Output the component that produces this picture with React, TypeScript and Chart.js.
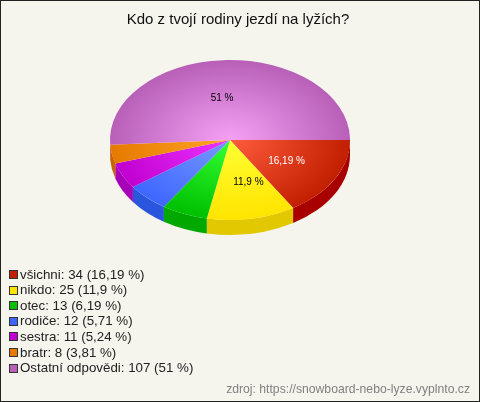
import React, { useEffect, useRef } from "react";
import { Chart, registerables } from "chart.js";

Chart.register(...registerables);

const title = "Kdo z tvojí rodiny jezdí na lyžích?";
const source = "zdroj: https://snowboard-nebo-lyze.vyplnto.cz";
const categories = ["všichni", "nikdo", "otec", "rodiče", "sestra", "bratr", "Ostatní odpovědi"];
const counts = [34, 25, 13, 12, 11, 8, 107];
const percents = ["16,19", "11,9", "6,19", "5,71", "5,24", "3,81", "51"];
const innerColors = ["#ff5c3e", "#ffff33", "#33ff33", "#7799ff", "#ee33ff", "#ffa526", "#f5a0f5"];
const outerColors = ["#c21e00", "#ffe400", "#00c000", "#3e66ff", "#c000d0", "#e67a00", "#b860b8"];
const sideColors = ["#a80000", "#e2c800", "#00a800", "#2a55dd", "#a800b8", "#c86400", "#a050a0"];
const swatchColors = ["#c21e00", "#ffe400", "#00c000", "#3e66ff", "#c000d0", "#e67a00", "#b860b8"];
const sliceLabels = ["16,19 %", "11,9 %", "", "", "", "", "51 %"];
const sliceLabelColors = ["#ffffff", "#000000", "#000000", "#000000", "#000000", "#000000", "#000000"];

const FONT = '"Liberation Sans", Arial, sans-serif';
const SQUASH = 80 / 120;
const DEPTH = 15;
const labelShift = [1, 7, 0, 0, 0, 0, -6];

const pie3d = {
  id: "pie3d",
  beforeDraw(chart: any) {
    const { ctx, width, height } = chart;
    ctx.save();
    ctx.fillStyle = "#f5f5ee";
    ctx.fillRect(0, 0, width, height);
    ctx.restore();
  },
  beforeDatasetDraw(chart: any) {
    const { ctx } = chart;
    const arcs = chart.getDatasetMeta(0).data;
    const cx = arcs[0].x;
    const cy = arcs[0].y;
    const r = arcs[0].outerRadius;
    arcs.forEach((arc: any, i: number) => {
      const a0 = Math.max(arc.startAngle, 0);
      const a1 = Math.min(arc.endAngle, Math.PI);
      if (a1 <= a0) return;
      ctx.save();
      ctx.fillStyle = sideColors[i];
      ctx.beginPath();
      ctx.ellipse(cx, cy + DEPTH, r, r * SQUASH, 0, a0, a1);
      ctx.ellipse(cx, cy, r, r * SQUASH, 0, a1, a0, true);
      ctx.closePath();
      ctx.fill();
      ctx.restore();
    });
    ctx.save();
    ctx.translate(cx, cy);
    ctx.scale(1, SQUASH);
    ctx.translate(-cx, -cy);
  },
  afterDatasetDraw(chart: any) {
    chart.ctx.restore();
  },
  afterDraw(chart: any) {
    const { ctx, width, height } = chart;
    const arcs = chart.getDatasetMeta(0).data;
    ctx.save();
    ctx.textBaseline = "middle";

    ctx.textAlign = "center";
    ctx.font = `15px ${FONT}`;
    ctx.fillStyle = "#111111";
    ctx.fillText(title, 238, 20);

    ctx.font = `10px ${FONT}`;
    arcs.forEach((arc: any, i: number) => {
      if (!sliceLabels[i]) return;
      const mid = (arc.startAngle + arc.endAngle) / 2;
      const rr = arc.outerRadius * 0.53;
      ctx.fillStyle = sliceLabelColors[i];
      ctx.fillText(
        sliceLabels[i],
        arc.x + Math.cos(mid) * rr + labelShift[i],
        arc.y + Math.sin(mid) * rr * SQUASH + 1
      );
    });

    ctx.textAlign = "left";
    ctx.font = `13.33px ${FONT}`;
    categories.forEach((c, i) => {
      const y = 275 + i * 15.6;
      ctx.fillStyle = swatchColors[i];
      ctx.fillRect(9.5, Math.round(y) - 4.5, 8, 8);
      ctx.strokeStyle = "#333333";
      ctx.lineWidth = 1;
      ctx.strokeRect(9.5, Math.round(y) - 4.5, 8, 8);
      ctx.fillStyle = "#222222";
      ctx.fillText(`${c}: ${counts[i]} (${percents[i]} %)`, 20, y);
    });

    ctx.textAlign = "right";
    ctx.font = `12.2px ${FONT}`;
    ctx.fillStyle = "#808080";
    ctx.fillText(source, 470, 390);

    ctx.strokeStyle = "#222222";
    ctx.lineWidth = 1;
    ctx.strokeRect(0.5, 0.5, width - 1, height - 1);
    ctx.restore();
  },
};

export default function App() {
  const ref = useRef<HTMLCanvasElement>(null);
  useEffect(() => {
    const gradient = (c: any) => {
      const { chart, dataIndex } = c;
      const area = chart.chartArea;
      if (!area) return outerColors[dataIndex];
      const x = (area.left + area.right) / 2;
      const y = (area.top + area.bottom) / 2;
      const g = chart.ctx.createRadialGradient(x, y, 0, x, y, 120);
      g.addColorStop(0, innerColors[dataIndex]);
      g.addColorStop(1, outerColors[dataIndex]);
      return g;
    };
    const chart = new Chart(ref.current as HTMLCanvasElement, {
      type: "pie",
      data: {
        labels: categories,
        datasets: [{ data: counts, backgroundColor: gradient, borderWidth: 0, radius: 120 } as any],
      },
      options: {
        animation: false,
        responsive: false,
        rotation: 90,
        layout: { padding: { left: 128, right: 148, top: 60, bottom: 182 } },
        plugins: {
          legend: { display: false },
          tooltip: { enabled: false },
          title: { display: false },
        },
      } as any,
      plugins: [pie3d],
    });
    return () => chart.destroy();
  }, []);
  return (
    <div style={{ position: "absolute", left: 0, top: 0, width: 480, height: 402 }}>
      <canvas ref={ref} width={480} height={402} style={{ display: "block" }} />
    </div>
  );
}
